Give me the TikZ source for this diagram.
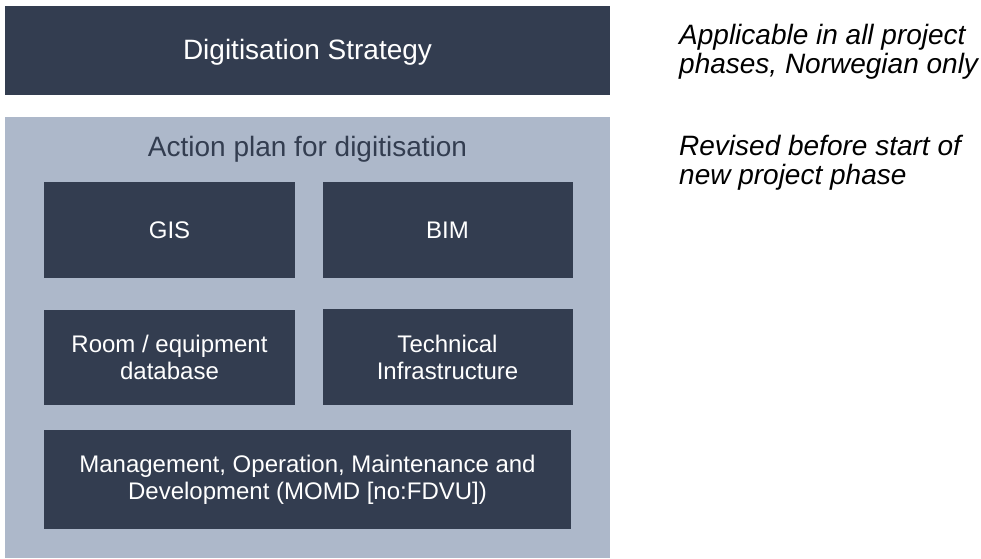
\documentclass[tikz,border=0pt]{standalone}
\usepackage{fontspec}
\setmainfont{Liberation Sans}
\definecolor{slatedark}{HTML}{333D50}
\definecolor{slatelight}{HTML}{ADB8CA}
\tikzset{
    darkbox/.style={fill=slatedark, text=white, align=center, inner sep=0pt,
        font=\fontsize{24}{27}\selectfont},
    lightbox/.style={fill=slatelight, inner sep=0pt},
    sidenote/.style={anchor=west, align=left, inner sep=0pt,
        font=\fontsize{28}{29}\selectfont\itshape}
}
\begin{document}
\begin{tikzpicture}[x=1pt, y=-1pt]
    \useasboundingbox (0,0) rectangle (981,558);
    \node[darkbox, minimum width=605, minimum height=89] (strategy) at (307.5,50) {};
    \node[text=white, font=\fontsize{28}{31}\selectfont] (strategytext) at (307.5,52) {Digitisation Strategy};
    \node[lightbox, minimum width=605, minimum height=441] (plan) at (307.5,337.5) {};
    \node[text=slatedark, font=\fontsize{28}{31}\selectfont] (plantitle) at (307.5,149) {Action plan for digitisation};
    \node[darkbox, minimum width=251, minimum height=96] (gis) at (169.5,230) {GIS};
    \node[darkbox, minimum width=250, minimum height=96] (bim) at (447.5,230) {BIM};
    \node[darkbox, minimum width=251, minimum height=95] (room) at (169.5,357) {Room / equipment\\database};
    \node[darkbox, minimum width=250, minimum height=96] (tech) at (447.5,357) {Technical\\Infrastructure};
    \node[darkbox, minimum width=527, minimum height=99] (momd) at (307.5,479.5)
        {Management, Operation, Maintenance and\\Development (MOMD [no:FDVU])};
    \node[sidenote] (allphases) at (679,52) {Applicable in all project\\phases, Norwegian only};
    \node[sidenote] (revised) at (679,163) {Revised before start of\\new project phase};
\end{tikzpicture}
\end{document}
